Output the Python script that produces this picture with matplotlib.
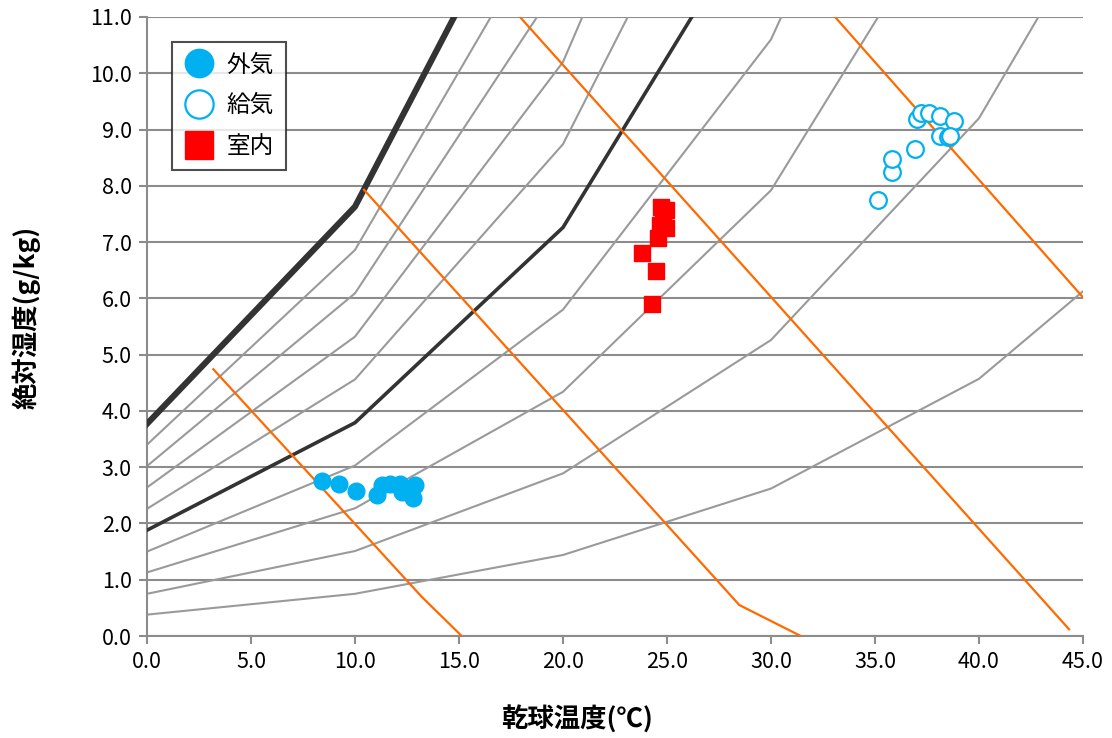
import matplotlib
matplotlib.use("Agg")
import matplotlib.pyplot as plt

plt.rcParams['font.family'] = ['Noto Sans CJK JP', 'DejaVu Sans']

# ---- data ----
t_nodes = [0, 10, 20, 30, 40, 50]
rh_curves = {
    10: [0.38, 0.75, 1.44, 2.62, 4.57, 7.68],
    20: [0.75, 1.51, 2.89, 5.26, 9.20, 15.5],
    30: [1.13, 2.27, 4.34, 7.92, 13.9],
    40: [1.50, 3.03, 5.80, 10.6, 18.7],
    60: [2.26, 4.56, 8.74, 16.0],
    70: [2.64, 5.32, 10.2, 18.8],
    80: [3.02, 6.09, 11.7],
    90: [3.40, 6.86, 13.2],
}
rh50 = [1.88, 3.79, 7.26, 13.3]
rh100 = [3.77, 7.63, 14.7]

# orange lines (x, y) points
orange_lines = [
    ([3.19, 13.2, 15.13], [4.74, 0.70, 0.0]),
    ([10.43, 28.48, 31.43], [7.93, 0.55, 0.0]),
    ([17.93, 44.33], [11.0, 0.12]),
    ([33.08, 46.0], [11.0, 5.6]),
]

outside_t = [8.43, 9.23, 10.03, 11.04, 11.28, 11.68, 12.16, 12.24, 12.88, 12.80]
outside_x = [2.76, 2.70, 2.58, 2.51, 2.68, 2.71, 2.71, 2.56, 2.68, 2.45]

supply_t = [35.13, 35.82, 35.82, 36.92, 37.00, 37.20, 37.61, 38.13, 38.80, 38.13, 38.52, 38.60]
supply_x = [7.74, 8.24, 8.47, 8.65, 9.19, 9.29, 9.29, 9.24, 9.15, 8.89, 8.87, 8.89]

room_t = [23.78, 24.45, 24.26, 24.59, 24.71, 24.95, 24.95, 24.66, 24.81]
room_x = [6.80, 6.49, 5.90, 7.07, 7.62, 7.57, 7.25, 7.30, 7.48]

x_ticks = [0, 5, 10, 15, 20, 25, 30, 35, 40, 45]
y_ticks = [0, 1, 2, 3, 4, 5, 6, 7, 8, 9, 10, 11]

labels = ['外気', '給気', '室内']
x_label = '乾球温度(℃)'
y_label = '絶対湿度(g/kg)'

# ---- plot ----
fig = plt.figure(figsize=(11.12, 7.38), dpi=100)
ax = fig.add_axes([0.1322, 0.1382, 0.8417, 0.8388])

ax.set_xlim(0, 45)
ax.set_ylim(0, 11)
ax.set_xticks(x_ticks)
ax.set_yticks(y_ticks)
ax.set_xticklabels([f'{v:.1f}' for v in x_ticks])
ax.set_yticklabels([f'{v:.1f}' for v in y_ticks])

grid_col = '#8c8c8c'
ax.yaxis.grid(True, color=grid_col, linewidth=1.5, zorder=0)
ax.set_axisbelow(True)
for s in ['top', 'right']:
    ax.spines[s].set_visible(False)
for s in ['left', 'bottom']:
    ax.spines[s].set_color(grid_col)
    ax.spines[s].set_linewidth(1.5)
ax.tick_params(axis='both', direction='out', length=6, width=1.5, color=grid_col,
               labelsize=15.5, pad=5)

for rh, vals in rh_curves.items():
    ax.plot(t_nodes[:len(vals)], vals, color='#9a9a9a', linewidth=1.5, zorder=2)
ax.plot(t_nodes[:len(rh50)], rh50, color='#333333', linewidth=2.6, zorder=3)
ax.plot(t_nodes[:len(rh100)], rh100, color='#333333', linewidth=4.4, zorder=3)

for xs, ys in orange_lines:
    ax.plot(xs, ys, color='#FF6A00', linewidth=1.6, zorder=4)

blue = '#00B0F0'
ax.plot(outside_t, outside_x, 'o', color=blue, markersize=12, zorder=6, label=labels[0])
ax.plot(supply_t, supply_x, 'o', markerfacecolor='white', markeredgecolor=blue,
        markeredgewidth=1.6, markersize=12, zorder=6, label=labels[1])
ax.plot(room_t, room_x, 's', color='#FF0000', markersize=12, zorder=6, label=labels[2])

ax.set_xlabel(x_label, fontsize=19, fontweight='bold')
ax.set_ylabel(y_label, fontsize=19, fontweight='bold')
ax.xaxis.set_label_coords(0.459, -0.113)
ax.yaxis.set_label_coords(-0.114, 0.514)

leg = ax.legend(loc='upper left', bbox_to_anchor=(0.027, 0.96), fontsize=17,
                markerscale=1.7, frameon=True, fancybox=False, borderpad=0.5,
                handletextpad=0.5, labelspacing=0.75, handlelength=1.3,
                borderaxespad=0)
leg.get_frame().set_edgecolor('#222222')
leg.get_frame().set_linewidth(1.5)
leg.set_zorder(10)

fig.savefig('out.png', dpi=100)
